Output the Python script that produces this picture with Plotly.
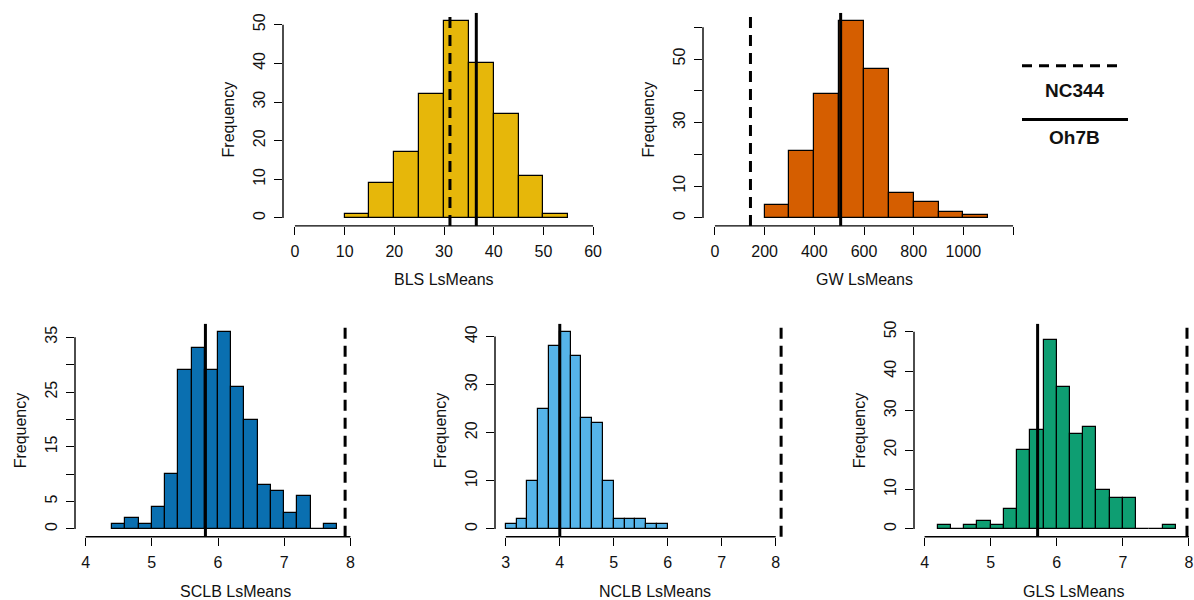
import plotly.graph_objects as go

W, H = 1194, 600

# ---------------- data ----------------
BLS_BREAKS = [10, 15, 20, 25, 30, 35, 40, 45, 50, 55]
BLS_COUNTS = [1, 9, 17, 32, 51, 40, 27, 11, 1]
BLS_NC344 = 31.2
BLS_OH7B = 36.5

GW_BREAKS = [200, 300, 400, 500, 600, 700, 800, 900, 1000, 1100]
GW_COUNTS = [4, 21, 39, 62, 47, 8, 5, 2, 1]
GW_NC344 = 143
GW_OH7B = 506

SCLB_BREAKS = [4.4, 4.6, 4.8, 5.0, 5.2, 5.4, 5.6, 5.8, 6.0, 6.2, 6.4, 6.6, 6.8, 7.0, 7.2, 7.4, 7.6, 7.8]
SCLB_COUNTS = [1, 2, 1, 4, 10, 29, 33, 29, 36, 26, 20, 8, 7, 3, 6, 0, 1]
SCLB_NC344 = 7.92
SCLB_OH7B = 5.81

NCLB_BREAKS = [3.0, 3.2, 3.4, 3.6, 3.8, 4.0, 4.2, 4.4, 4.6, 4.8, 5.0, 5.2, 5.4, 5.6, 5.8, 6.0]
NCLB_COUNTS = [1, 2, 10, 25, 38, 41, 36, 23, 22, 10, 2, 2, 2, 1, 1]
NCLB_NC344 = 8.1
NCLB_OH7B = 4.0

GLS_BREAKS = [4.2, 4.4, 4.6, 4.8, 5.0, 5.2, 5.4, 5.6, 5.8, 6.0, 6.2, 6.4, 6.6, 6.8, 7.0, 7.2, 7.4, 7.6, 7.8]
GLS_COUNTS = [1, 0, 1, 2, 1, 5, 20, 25, 48, 36, 24, 26, 10, 8, 8, 0, 0, 1]
GLS_NC344 = 7.97
GLS_OH7B = 5.71

BLS_XTICKS = [0, 10, 20, 30, 40, 50, 60]
BLS_XLABELS = ["0", "10", "20", "30", "40", "50", "60"]
BLS_YTICKS = [0, 10, 20, 30, 40, 50]
BLS_YLABELS = ["0", "10", "20", "30", "40", "50"]

GW_XTICKS = [0, 200, 400, 600, 800, 1000, 1200]
GW_XLABELS = ["0", "200", "400", "600", "800", "1000", ""]
GW_YTICKS = [0, 10, 20, 30, 40, 50, 60]
GW_YLABELS = ["0", "10", "", "30", "", "50", ""]

SCLB_XTICKS = [4, 5, 6, 7, 8]
SCLB_XLABELS = ["4", "5", "6", "7", "8"]
SCLB_YTICKS = [0, 5, 10, 15, 20, 25, 30, 35]
SCLB_YLABELS = ["0", "5", "", "15", "", "25", "", "35"]

NCLB_XTICKS = [3, 4, 5, 6, 7, 8]
NCLB_XLABELS = ["3", "4", "5", "6", "7", "8"]
NCLB_YTICKS = [0, 10, 20, 30, 40]
NCLB_YLABELS = ["0", "10", "20", "30", "40"]

GLS_XTICKS = [4, 5, 6, 7, 8]
GLS_XLABELS = ["4", "5", "6", "7", "8"]
GLS_YTICKS = [0, 10, 20, 30, 40, 50]
GLS_YLABELS = ["0", "10", "20", "30", "40", "50"]

X_TITLES = ["BLS LsMeans", "GW LsMeans", "SCLB LsMeans", "NCLB LsMeans", "GLS LsMeans"]
Y_TITLE = "Frequency"
LEGEND_LABELS = ["NC344", "Oh7B"]

# ---------------- style / layout ----------------
FONT = "Liberation Sans, Arial, sans-serif"
TXT = "#111111"

panels = [
    dict(breaks=BLS_BREAKS, counts=BLS_COUNTS, nc=BLS_NC344, oh=BLS_OH7B, color="#E6B70A",
         xt=BLS_XTICKS, xl=BLS_XLABELS, yt=BLS_YTICKS, yl=BLS_YLABELS,
         rect=(283, 10, 605, 224), xr=[-2.4, 62.4], yr=[-2.04, 53.04], tx=444, ty=278),
    dict(breaks=GW_BREAKS, counts=GW_COUNTS, nc=GW_NC344, oh=GW_OH7B, color="#D55E00",
         xt=GW_XTICKS, xl=GW_XLABELS, yt=GW_YTICKS, yl=GW_YLABELS,
         rect=(703, 10, 1025, 224), xr=[-48, 1248], yr=[-2.48, 64.48], tx=864, ty=278),
    dict(breaks=SCLB_BREAKS, counts=SCLB_COUNTS, nc=SCLB_NC344, oh=SCLB_OH7B, color="#0A6FB0",
         xt=SCLB_XTICKS, xl=SCLB_XLABELS, yt=SCLB_YTICKS, yl=SCLB_YLABELS,
         rect=(75, 322.5, 361, 536.5), xr=[3.84, 8.16], yr=[-1.44, 37.44], tx=235, ty=591),
    dict(breaks=NCLB_BREAKS, counts=NCLB_COUNTS, nc=NCLB_NC344, oh=NCLB_OH7B, color="#56B4E9",
         xt=NCLB_XTICKS, xl=NCLB_XLABELS, yt=NCLB_YTICKS, yl=NCLB_YLABELS,
         rect=(495, 322.5, 786.5, 536.5), xr=[2.8, 8.2], yr=[-1.64, 42.64], tx=655, ty=591),
    dict(breaks=GLS_BREAKS, counts=GLS_COUNTS, nc=GLS_NC344, oh=GLS_OH7B, color="#0E9E72",
         xt=GLS_XTICKS, xl=GLS_XLABELS, yt=GLS_YTICKS, yl=GLS_YLABELS,
         rect=(914, 322.5, 1194, 536.5), xr=[3.84, 8.076], yr=[-2.0, 52.0], tx=1073, ty=591),
]


def px(x):
    return x / W


def py(y):
    return 1 - y / H


fig = go.Figure()
shapes = []
annotations = []

for i, p in enumerate(panels, start=1):
    sfx = "" if i == 1 else str(i)
    xa, ya = "x" + sfx, "y" + sfx
    b = p["breaks"]
    centers = [(b[k] + b[k + 1]) / 2 for k in range(len(b) - 1)]
    widths = [b[k + 1] - b[k] for k in range(len(b) - 1)]
    fig.add_trace(go.Bar(
        x=centers, y=p["counts"], width=widths, xaxis=xa, yaxis=ya,
        marker=dict(color=p["color"], line=dict(color="black", width=1.2)),
        showlegend=False, hoverinfo="x+y",
    ))
    l, t, r, btm = p["rect"]
    common = dict(showgrid=False, zeroline=False, showline=False, ticks="outside",
                  ticklen=8, tickwidth=1.2, tickcolor="black", tickmode="array",
                  tickfont=dict(family=FONT, size=16, color=TXT), fixedrange=True)
    fig.layout["xaxis" + sfx] = dict(domain=[px(l), px(r)], range=p["xr"], anchor=ya,
                                     tickvals=p["xt"], ticktext=p["xl"],
                                     ticklabelstandoff=3, **common)
    fig.layout["yaxis" + sfx] = dict(domain=[py(btm), py(t)], range=p["yr"], anchor=xa,
                                     tickvals=p["yt"], ticktext=p["yl"], tickangle=-90,
                                     ticklabelstandoff=3, **common)
    # R-style axis lines spanning first to last tick
    shapes.append(dict(type="line", xref=xa, yref=ya + " domain", x0=p["xt"][0], x1=p["xt"][-1],
                       y0=0, y1=0, line=dict(color="black", width=1.4)))
    shapes.append(dict(type="line", xref=xa + " domain", yref=ya, x0=0, x1=0,
                       y0=p["yt"][0], y1=p["yt"][-1], line=dict(color="black", width=1.4)))
    # parental lines
    shapes.append(dict(type="line", xref=xa, yref=ya + " domain", x0=p["nc"], x1=p["nc"],
                       y0=0, y1=1, line=dict(color="black", width=3, dash="11px,7px")))
    shapes.append(dict(type="line", xref=xa, yref=ya + " domain", x0=p["oh"], x1=p["oh"],
                       y0=0, y1=1, line=dict(color="black", width=3)))
    # axis titles
    annotations.append(dict(text=X_TITLES[i - 1], xref="paper", yref="paper",
                            x=px(p["tx"]), y=py(p["ty"]), showarrow=False,
                            xanchor="center", yanchor="middle",
                            font=dict(family=FONT, size=16, color=TXT)))
    annotations.append(dict(text=Y_TITLE, xref="paper", yref="paper",
                            x=px(l - 55), y=py((t + btm) / 2), showarrow=False, textangle=-90,
                            xanchor="center", yanchor="middle",
                            font=dict(family=FONT, size=16, color=TXT)))

# legend (drawn manually like the original)
shapes.append(dict(type="line", xref="paper", yref="paper", x0=px(1022), x1=px(1121),
                   y0=py(63), y1=py(63), line=dict(color="black", width=3, dash="10px,7px")))
shapes.append(dict(type="line", xref="paper", yref="paper", x0=px(1022), x1=px(1128),
                   y0=py(117), y1=py(117), line=dict(color="black", width=3)))
annotations.append(dict(text="<b>%s</b>" % LEGEND_LABELS[0], xref="paper", yref="paper",
                        x=px(1075), y=py(88), showarrow=False, xanchor="center", yanchor="middle",
                        font=dict(family=FONT, size=19, color=TXT)))
annotations.append(dict(text="<b>%s</b>" % LEGEND_LABELS[1], xref="paper", yref="paper",
                        x=px(1074), y=py(135), showarrow=False, xanchor="center", yanchor="middle",
                        font=dict(family=FONT, size=19, color=TXT)))

fig.update_layout(
    width=W, height=H, margin=dict(l=0, r=0, t=0, b=0),
    paper_bgcolor="white", plot_bgcolor="white",
    shapes=shapes, annotations=annotations, showlegend=False, bargap=0,
    font=dict(family=FONT, color=TXT),
)

fig.write_html(
    "out.html",
    config={"displayModeBar": False},
    post_script="document.body.style.margin='0';document.body.style.padding='0';"
                "document.body.style.overflow='hidden';",
)
